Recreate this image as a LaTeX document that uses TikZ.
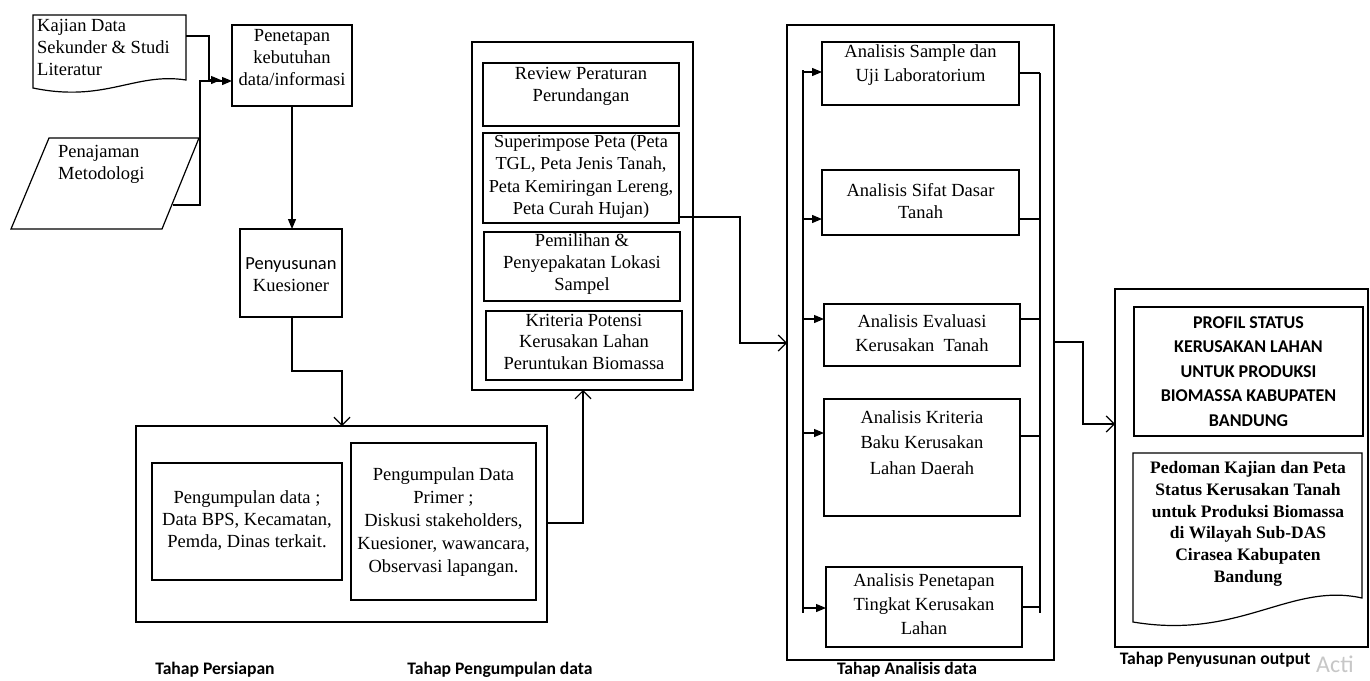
\documentclass[tikz,border=0pt]{standalone}
\usepackage{fontspec}
\setmainfont{Liberation Serif}
\newfontfamily\carlito{Carlito}
\usetikzlibrary{arrows.meta}
\tikzset{
  box/.style={draw, line width=1.2pt, rectangle, inner sep=0pt, outer sep=0pt},
  txt/.style={align=center, inner sep=0pt, font=\fontsize{18.5}{22}\selectfont},
  txta/.style={align=center, inner sep=0pt, font=\fontsize{18.5}{24.5}\selectfont},
  ln/.style={line width=1.2pt},
  fa/.style={line width=1.2pt, -{Triangle[length=10pt,width=8pt]}},
  oa/.style={line width=1.2pt, -{Straight Barb[length=8pt,width=16pt,line width=1.2pt]}},
  lab/.style={inner sep=0pt, font=\carlito\bfseries\fontsize{17.6}{20}\selectfont}
}
\begin{document}
\begin{tikzpicture}[x=1pt,y=-1pt]
\useasboundingbox (0,0) rectangle (1370,680);
\fill[white] (0,0) rectangle (1370,680);

% ---- Tahap Persiapan ----
\draw[ln] (33,15) -- (186,15) -- (186,80) .. controls (135,72) and (105,103) .. (33,88) -- cycle;
\node[txt, align=left, anchor=west] (kajt) at (37,47) {Kajian Data\\Sekunder \& Studi\\Literatur};
\coordinate (kajr) at (186,36);

\draw[ln] (49,138) -- (199,138) -- (162,229) -- (11,229) -- cycle;
\node[txt, align=left, anchor=west] (penjt) at (58,164) {Penajaman\\Metodologi};
\coordinate (parr) at (173,205);

\node[box, minimum width=120, minimum height=81] (pen) at (292,65.5) {};
\node[txt] (pent) at (292,57.5) {Penetapan\\kebutuhan\\data/informasi};

\node[box, minimum width=102, minimum height=88] (pny) at (291,273) {};
\node[txt] (pnyt) at (291,275) {{\carlito Penyusunan}\\Kuesioner};

\draw[fa, shorten >=11pt] (kajr) -- (209,36) -- (209,80) -- (pen.west |- 0,80);
\draw[fa] (parr) -- (200,205) -- (200,81) -- (pen.west |- 0,81);
\draw[fa] (pen.south -| 292,0) -- (pny.north -| 292,0);

% ---- bottom collection box ----
\node[box, minimum width=411, minimum height=196] (col) at (341.5,524) {};
\node[box, minimum width=190, minimum height=117] (sek) at (247,521.5) {};
\node[txt] (sekt) at (247,520) {Pengumpulan data ;\\Data BPS, Kecamatan,\\Pemda, Dinas terkait.};
\node[box, minimum width=185, minimum height=157] (pri) at (443.5,521.5) {};
\node[txt, font=\fontsize{18.5}{23}\selectfont] (prit) at (443.5,522) {Pengumpulan Data\\Primer ;\\Diskusi stakeholders,\\Kuesioner, wawancara,\\Observasi lapangan.};

\draw[oa] (pny.south -| 292,0) -- (292,371) -- (342,371) -- (col.north -| 342,0);

% ---- middle column ----
\node[box, minimum width=221, minimum height=348] (mid) at (582.5,216) {};
\node[box, minimum width=196, minimum height=63] (rev) at (581,94.5) {};
\node[txt] (revt) at (581,86) {Review Peraturan\\Perundangan};
\node[box, minimum width=196, minimum height=90] (sup) at (581,178) {};
\node[txt, font=\fontsize{18.3}{22.3}\selectfont] (supt) at (581,176.5) {Superimpose Peta (Peta\\TGL, Peta Jenis Tanah,\\Peta Kemiringan Lereng,\\Peta Curah Hujan)};
\node[box, minimum width=196, minimum height=69] (pem) at (582,266.5) {};
\node[txt] (pemt) at (582,264.5) {Pemilihan \&\\Penyepakatan Lokasi\\Sampel};
\node[box, minimum width=196, minimum height=69] (kri) at (584,345.5) {};
\node[txt, font=\fontsize{18.5}{21.5}\selectfont] (krit) at (584,341.5) {Kriteria Potensi\\Kerusakan Lahan\\Peruntukan Biomassa};

\draw[oa] (col.east |- 0,523) -- (583,523) -- (mid.south -| 583,0);

% ---- analysis column ----
\node[box, minimum width=267, minimum height=635] (ana) at (920.5,342.5) {};
\node[box, minimum width=197, minimum height=63] (a1) at (920.5,73.5) {};
\node[txta] (a1t) at (920.5,65) {Analisis Sample dan\\Uji Laboratorium};
\node[box, minimum width=197, minimum height=65] (a2) at (920.5,202.5) {};
\node[txta, font=\fontsize{18.5}{22}\selectfont] (a2t) at (920.5,201) {Analisis Sifat Dasar\\Tanah};
\node[box, minimum width=196, minimum height=62] (a3) at (922,335) {};
\node[txta] (a3t) at (922,333) {Analisis Evaluasi\\Kerusakan\ \ Tanah};
\node[box, minimum width=196, minimum height=117] (a4) at (922,457.5) {};
\node[txta, font=\fontsize{18.5}{25.5}\selectfont] (a4t) at (922,442.5) {Analisis Kriteria\\Baku Kerusakan\\Lahan Daerah};
\node[box, minimum width=196, minimum height=80] (a5) at (924,607) {};
\node[txta, font=\fontsize{18.5}{24}\selectfont] (a5t) at (924,604) {Analisis Penetapan\\Tingkat Kerusakan\\Lahan};

\draw[oa] (sup.east |- 0,217) -- (740,217) -- (740,343) -- (ana.west |- 0,343);

\coordinate (lbt) at (803,70);
\coordinate (lbb) at (803,613);
\draw[ln] (lbt) -- (lbb);
\draw[fa] (803,72) -- (a1.west |- 0,72);
\draw[fa] (803,219) -- (a2.west |- 0,219);
\draw[fa] (803,319) -- (a3.west |- 0,319);
\draw[fa] (803,433) -- (a4.west |- 0,433);
\draw[fa] (803,608) -- (a5.west |- 0,608);

\coordinate (rbt) at (1040,73);
\coordinate (rbb) at (1040,613);
\draw[ln] (rbt) -- (rbb);
\draw[ln] (a1.east |- 0,73) -- (1040,73);
\draw[ln] (a2.east |- 0,219) -- (1040,219);
\draw[ln] (a3.east |- 0,319) -- (1040,319);
\draw[ln] (a4.east |- 0,436) -- (1040,436);
\draw[ln] (a5.east |- 0,607) -- (1040,607);

% ---- output column ----
\node[box, minimum width=253, minimum height=358] (out) at (1241.5,468) {};
\node[box, minimum width=229, minimum height=129] (prof) at (1248.5,371.5) {};
\node[inner sep=0pt, align=center, font=\carlito\bfseries\fontsize{18}{24.5}\selectfont] (proft) at (1248.5,371.5) {PROFIL STATUS\\KERUSAKAN LAHAN\\UNTUK PRODUKSI\\BIOMASSA KABUPATEN\\BANDUNG};
\draw[ln] (1133,453) -- (1362,453) -- (1362,598) .. controls (1290,582) and (1240,640) .. (1133,622) -- cycle;
\node[txt, font=\bfseries\fontsize{17.5}{21.7}\selectfont] (pedt) at (1248,524) {Pedoman Kajian dan Peta\\Status Kerusakan Tanah\\untuk Produksi Biomassa\\di Wilayah Sub-DAS\\Cirasea Kabupaten\\Bandung};

\draw[oa] (ana.east |- 0,342) -- (1083,342) -- (1083,424) -- (out.west |- 0,424);

% ---- labels ----
\node[lab] (l1) at (215,670) {Tahap Persiapan};
\node[lab] (l2) at (500,670) {Tahap Pengumpulan data};
\node[lab] (l3) at (907,670) {Tahap Analisis data};
\node[lab] (l4) at (1215,660) {Tahap Penyusunan output};
\node[inner sep=0pt, anchor=west, text=black!22, font=\carlito\fontsize{24}{26}\selectfont] (wm) at (1316,664) {Acti};
\end{tikzpicture}
\end{document}
